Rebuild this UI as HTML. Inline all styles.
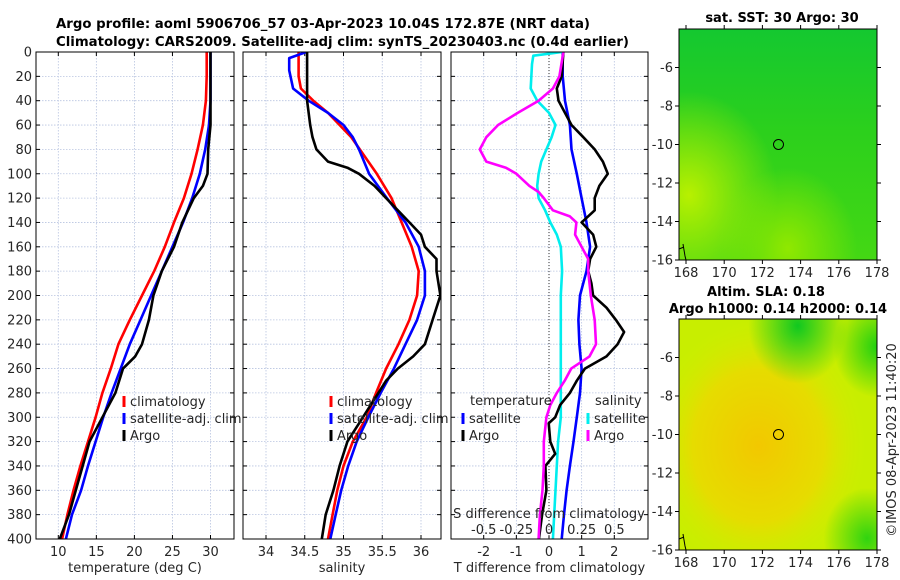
<!DOCTYPE html>
<html><head><meta charset="utf-8"><style>
html,body{margin:0;padding:0;background:#fff;}
svg{display:block;font-family:"DejaVu Sans","Liberation Sans",sans-serif;}
.t{font-size:13px;fill:#262626;}
.b{font-size:13px;font-weight:bold;fill:#000;}
</style></head><body>
<svg id="fig" width="900" height="580" viewBox="0 0 900 580" xmlns="http://www.w3.org/2000/svg">
<defs>
<clipPath id="c1"><rect x="36" y="52" width="198" height="487"/></clipPath>
<clipPath id="c2"><rect x="243" y="52" width="198" height="487"/></clipPath>
<clipPath id="c3"><rect x="451" y="52" width="197" height="487"/></clipPath>
<radialGradient id="g1a" cx="0.05" cy="0.72" r="0.45"><stop offset="0" stop-color="#b8f000"/><stop offset="1" stop-color="#b8f000" stop-opacity="0"/></radialGradient>
<radialGradient id="g1b" cx="0.55" cy="0.95" r="0.35"><stop offset="0" stop-color="#90e800"/><stop offset="1" stop-color="#90e800" stop-opacity="0"/></radialGradient>
<linearGradient id="g1c" x1="0" y1="0" x2="0" y2="1"><stop offset="0" stop-color="#14c830"/><stop offset="0.45" stop-color="#2cd01c"/><stop offset="1" stop-color="#44d814"/></linearGradient>
<radialGradient id="g2a" cx="0.4" cy="0.55" r="0.55"><stop offset="0" stop-color="#f2c800"/><stop offset="0.6" stop-color="#e6dc00"/><stop offset="1" stop-color="#d0ee00" stop-opacity="0"/></radialGradient>
<radialGradient id="g2b" cx="0.6" cy="0.03" r="0.25"><stop offset="0" stop-color="#10c820"/><stop offset="1" stop-color="#10c820" stop-opacity="0"/></radialGradient>
<radialGradient id="g2c" cx="1" cy="0.12" r="0.22"><stop offset="0" stop-color="#20d010"/><stop offset="1" stop-color="#20d010" stop-opacity="0"/></radialGradient>
<radialGradient id="g2d" cx="0.95" cy="0.95" r="0.22"><stop offset="0" stop-color="#30d410"/><stop offset="1" stop-color="#30d410" stop-opacity="0"/></radialGradient>
</defs>

<text class="b" x="56" y="28" textLength="534" lengthAdjust="spacingAndGlyphs">Argo profile: aoml 5906706_57 03-Apr-2023 10.04S 172.87E (NRT data)</text>
<text class="b" x="56" y="46" textLength="573" lengthAdjust="spacingAndGlyphs">Climatology: CARS2009. Satellite-adj clim: synTS_20230403.nc (0.4d earlier)</text>

<g id="p1"></g>
<g id="p2"></g>
<g id="p3"></g>

<g>
<text class="b" x="782" y="22" text-anchor="middle">sat. SST: 30 Argo: 30</text>
<rect x="679" y="29" width="198" height="231" fill="url(#g1c)"/>
<rect x="679" y="29" width="198" height="231" fill="url(#g1a)"/>
<rect x="679" y="29" width="198" height="231" fill="url(#g1b)"/>
<circle cx="778.5" cy="144.5" r="5" fill="none" stroke="#000" stroke-width="1"/>
<path d="M683 244 l2 12 l1 4 M679 249 l5 -2" stroke="#000" fill="none"/>
<rect x="679" y="29" width="198" height="231" fill="none" stroke="#000"/>
<g id="m1ax"></g>
</g>
<g>
<text class="b" x="766" y="296" text-anchor="middle">Altim. SLA: 0.18</text>
<text class="b" x="778" y="313" text-anchor="middle">Argo h1000: 0.14 h2000: 0.14</text>
<rect x="679" y="319" width="198" height="231" fill="#c8ee00"/>
<rect x="679" y="319" width="198" height="231" fill="url(#g2a)"/>
<rect x="679" y="319" width="198" height="231" fill="url(#g2b)"/>
<rect x="679" y="319" width="198" height="231" fill="url(#g2c)"/>
<rect x="679" y="319" width="198" height="231" fill="url(#g2d)"/>
<circle cx="778.5" cy="434.5" r="5" fill="none" stroke="#000" stroke-width="1"/>
<path d="M683 534 l2 12 l1 4 M679 539 l5 -2" stroke="#000" fill="none"/>
<rect x="679" y="319" width="198" height="231" fill="none" stroke="#000"/>
<g id="m2ax"></g>
</g>
<text class="t" transform="translate(896,440) rotate(-90)" text-anchor="middle" font-size="13">©IMOS 08-Apr-2023 11:40:20</text>
</svg>
<script>
// ---- data ----
const depths = [0,20,40,60,80,100,120,140,160,180,200,220,240,260,280,300,320,340,360,380,400];
const tempClim = [29.5,29.5,29.4,29.0,28.3,27.5,26.5,25.2,24.0,22.6,21.0,19.4,17.9,16.9,15.8,14.9,13.9,12.9,12.0,11.2,10.5];
const tempSat  = [30.0,30.0,30.0,29.8,29.3,28.6,27.6,26.4,25.0,23.6,22.2,20.8,19.4,18.2,17.0,15.9,14.9,13.9,13.0,11.8,11.0];
const argoDepths = [0,20,40,60,80,100,110,120,140,160,180,200,220,240,250,260,280,300,320,340,360,380,400];
const tempArgo = [30.0,30.0,30.0,30.0,29.7,29.6,29.0,27.8,26.3,25.2,23.6,22.5,21.9,21.0,20.1,18.5,17.5,15.8,14.1,13.2,12.3,11.4,10.2];
const salClimDepths = [0,20,30,40,50,60,70,80,100,120,140,160,180,200,220,240,260,280,300,320,340,360,380,400];
const salClim = [34.42,34.42,34.45,34.61,34.8,34.95,35.1,35.21,35.43,35.62,35.75,35.88,35.97,35.95,35.85,35.71,35.55,35.42,35.3,35.12,35.0,34.92,34.86,34.8];
const salSatDepths = [0,5,15,30,40,50,60,70,80,100,120,140,160,180,200,220,240,260,280,300,320,340,360,380,400];
const salSat = [34.52,34.3,34.3,34.35,34.55,34.8,35.0,35.12,35.2,35.33,35.56,35.8,35.97,36.05,36.05,35.95,35.8,35.65,35.48,35.32,35.17,35.06,34.97,34.9,34.83];
const salArgoDepths = [0,20,40,60,70,80,90,95,100,110,120,130,140,150,160,170,180,200,220,240,250,260,270,280,300,320,340,360,380,400];
const salArgo = [34.53,34.53,34.53,34.57,34.6,34.65,34.8,35.05,35.2,35.4,35.55,35.7,35.85,36.0,36.05,36.2,36.2,36.25,36.15,36.05,35.9,35.7,35.55,35.45,35.25,35.05,34.95,34.87,34.77,34.72];
const dTSatDepths = [0,20,40,60,80,100,120,140,160,180,200,220,240,260,280,300,320,340,360,380,400];
const dTSat = [0.42,0.42,0.49,0.64,0.69,0.85,1.0,1.15,1.26,1.15,0.95,0.9,0.93,1.0,0.95,0.85,0.75,0.64,0.54,0.46,0.39];
const dTArgoDepths = [0,20,30,40,50,60,70,80,90,100,110,120,130,140,150,160,170,180,190,200,210,220,230,240,250,260,270,280,290,300,305,320,330,340,360,380,400];
const dTArgo = [0.44,0.39,0.24,0.29,0.49,0.69,1.05,1.4,1.65,1.8,1.54,1.4,1.4,1.0,1.35,1.45,1.26,1.2,1.3,1.35,1.76,2.05,2.3,2.1,1.76,1.1,0.85,0.64,0.34,0.19,-0.01,0.04,0.19,-0.11,-0.08,-0.21,-0.31];
const dSSatDepths = [0,3,10,30,40,50,60,70,80,90,100,110,120,130,140,150,160,180,200,250,300,320,360,400];
const dSSat = [0.1,-0.12,-0.13,-0.14,-0.09,0.0,0.05,0.02,-0.02,-0.06,-0.08,-0.09,-0.08,-0.03,0.01,0.06,0.09,0.1,0.09,0.09,0.09,0.07,0.05,0.03];
const dSArgoDepths = [0,20,30,40,50,60,70,80,90,95,100,110,115,120,130,135,140,150,160,170,180,200,220,240,250,260,270,280,290,300,320,340,360,380,400];
const dSArgo = [0.11,0.08,0.03,-0.08,-0.24,-0.39,-0.48,-0.53,-0.48,-0.33,-0.25,-0.15,-0.08,-0.04,0.03,0.16,0.21,0.2,0.25,0.3,0.3,0.32,0.35,0.36,0.31,0.17,0.12,0.06,0.01,-0.02,-0.04,-0.04,-0.05,-0.07,-0.08];
const depthTicks = [0,20,40,60,80,100,120,140,160,180,200,220,240,260,280,300,320,340,360,380,400];
const tempTicks = [10,15,20,25,30];
const salTicks = [34,34.5,35,35.5,36];
const dTTicks = [-2,-1,0,1,2];
const dSTicks = [-0.5,-0.25,0,0.25,0.5];
const lonTicks = [168,170,172,174,176,178];
const latTicks = [-6,-8,-10,-12,-14,-16];

const NS='http://www.w3.org/2000/svg';
function mk(tag, attrs, parent){const e=document.createElementNS(NS,tag);for(const k in attrs)e.setAttribute(k,attrs[k]);parent.appendChild(e);return e;}
const Y0=52,Y1=539;
const yD = d => Y0 + d*(Y1-Y0)/400;
function lin(d0,d1,r0,r1){return v=>r0+(v-d0)*(r1-r0)/(d1-d0);}

function panel(g, x0, x1, xs, ticks, fmt, clip, yLabels, xlabel){
  // grid
  ticks.forEach(t=>{const l=mk('line',{x1:xs(t),x2:xs(t),y1:Y0,y2:Y1,stroke:'#b8c4e0','stroke-width':0.8,'stroke-dasharray':'1.5,1.5'},g);
    
    });
  depthTicks.forEach(d=>{const l=mk('line',{x1:x0,x2:x1,y1:yD(d),y2:yD(d),stroke:'#b8c4e0','stroke-width':0.8,'stroke-dasharray':'1.5,1.5'},g);
    
    
    mk('line',{x1:x0,x2:x0+4,y1:yD(d),y2:yD(d),stroke:'#000'},g);
    mk('line',{x1:x1-4,x2:x1,y1:yD(d),y2:yD(d),stroke:'#000'},g);
    if(yLabels){const t=mk('text',{x:x0-4,y:yD(d)+4.5,'text-anchor':'end','class':'t'},g);t.textContent=d;
      
      }
  });
  ticks.forEach(t=>{mk('line',{x1:xs(t),x2:xs(t),y1:Y1-4,y2:Y1,stroke:'#000'},g);mk('line',{x1:xs(t),x2:xs(t),y1:Y0,y2:Y0+4,stroke:'#000'},g);
    const tx=mk('text',{x:xs(t),y:556,'text-anchor':'middle','class':'t'},g);tx.textContent=fmt(t);
    
    });
  const xl=mk('text',{x:(x0+x1)/2,y:572,'text-anchor':'middle','class':'t'},g);xl.textContent=xlabel;
  
  
  const lg=mk('g',{'clip-path':'url(#'+clip+')'},g);
  const fr=mk('rect',{x:x0,y:Y0,width:x1-x0,height:Y1-Y0,fill:'none',stroke:'#000'},g);
  
  
  return lg;
}
function line(g, ds, vs, xs, color, name){
  const p=ds.map((d,i)=>(i?'L':'M')+xs(vs[i]).toFixed(1)+' '+yD(d).toFixed(1)).join(' ');
  const e=mk('path',{d:p,fill:'none',stroke:color,'stroke-width':2.6,'stroke-linejoin':'round'},g);
  
  
}
function legend(g, x, y, color, label, name){
  mk('rect',{x:x-1.5,y:y-9,width:3,height:11,fill:color},g);
  const t=mk('text',{x:x+6,y:y+1,'class':'t'},g);t.textContent=label;
  
  
}
// panel 1
const p1=document.getElementById('p1');
const xT=lin(10,30,58.3,210.5);
const l1=panel(p1,36,234,xT,tempTicks,String,'c1',true,'temperature (deg C)');
line(l1,depths,tempClim,xT,'#ff0000','temp-climatology-line');
line(l1,depths,tempSat,xT,'#0000ff','temp-satellite-line');
line(l1,argoDepths,tempArgo,xT,'#000000','temp-argo-line');
legend(p1,124,405,'#ff0000','climatology','legend-climatology');
legend(p1,124,422,'#0000ff','satellite-adj. clim','legend-satellite');
legend(p1,124,439,'#000000','Argo','legend-argo');
// panel 2
const p2=document.getElementById('p2');
const xS=lin(34,36,266,421);
const l2=panel(p2,243,441,xS,salTicks,String,'c2',false,'salinity');
line(l2,salClimDepths,salClim,xS,'#ff0000','sal-climatology-line');
line(l2,salSatDepths,salSat,xS,'#0000ff','sal-satellite-line');
line(l2,salArgoDepths,salArgo,xS,'#000000','sal-argo-line');
legend(p2,331,405,'#ff0000','climatology','legend-climatology');
legend(p2,331,422,'#0000ff','satellite-adj. clim','legend-satellite');
legend(p2,331,439,'#000000','Argo','legend-argo');
// panel 3
const p3=document.getElementById('p3');
const xdT=lin(0,2,549,614.3);
const xdS=lin(0,0.5,549,614.3);
const l3=panel(p3,451,648,xdT,dTTicks,String,'c3',false,'T difference from climatology');
mk('line',{x1:549,x2:549,y1:Y0,y2:Y1,stroke:'#333','stroke-dasharray':'1,2'},l3);
line(l3,dTSatDepths,dTSat,xdT,'#0000ff','dT-satellite-line');
line(l3,dSSatDepths,dSSat,xdS,'#00eeee','dS-satellite-line');
line(l3,dTArgoDepths,dTArgo,xdT,'#000000','dT-argo-line');
line(l3,dSArgoDepths,dSArgo,xdS,'#ff00ff','dS-argo-line');
let tt=mk('text',{x:470,y:405,'class':'t'},p3);tt.textContent='temperature';


tt=mk('text',{x:595,y:405,'class':'t'},p3);tt.textContent='salinity';


legend(p3,463,422,'#0000ff','satellite','legend-t-satellite');
legend(p3,463,439,'#000000','Argo','legend-t-argo');
legend(p3,588,422,'#00eeee','satellite','legend-s-satellite');
legend(p3,588,439,'#ff00ff','Argo','legend-s-argo');
tt=mk('text',{x:549,y:518,'text-anchor':'middle','class':'t'},p3);tt.textContent='S difference from climatology';


dSTicks.forEach(v=>{const t=mk('text',{x:xdS(v),y:534,'text-anchor':'middle','class':'t'},p3);t.textContent=String(v);
  
  });
// map axes
function mapAxes(id, top){
  const g=document.getElementById(id);
  const xl=lin(168,178,686,877), yl=lin(-4,-16,top,top+231);
  lonTicks.forEach(v=>{mk('line',{x1:xl(v),x2:xl(v),y1:top+231,y2:top+235,stroke:'#000'},g);mk('line',{x1:xl(v),x2:xl(v),y1:top,y2:top-4,stroke:'#000'},g);
    const t=mk('text',{x:xl(v),y:top+248,'text-anchor':'middle','class':'t'},g);t.textContent=v;
    
    });
  latTicks.forEach(v=>{mk('line',{x1:675,x2:679,y1:yl(v),y2:yl(v),stroke:'#000'},g);mk('line',{x1:877,x2:881,y1:yl(v),y2:yl(v),stroke:'#000'},g);
    const t=mk('text',{x:673,y:yl(v)+4.5,'text-anchor':'end','class':'t'},g);t.textContent=v;
    
    });
}
mapAxes('m1ax',29);
mapAxes('m2ax',319);
</script>
</body></html>
